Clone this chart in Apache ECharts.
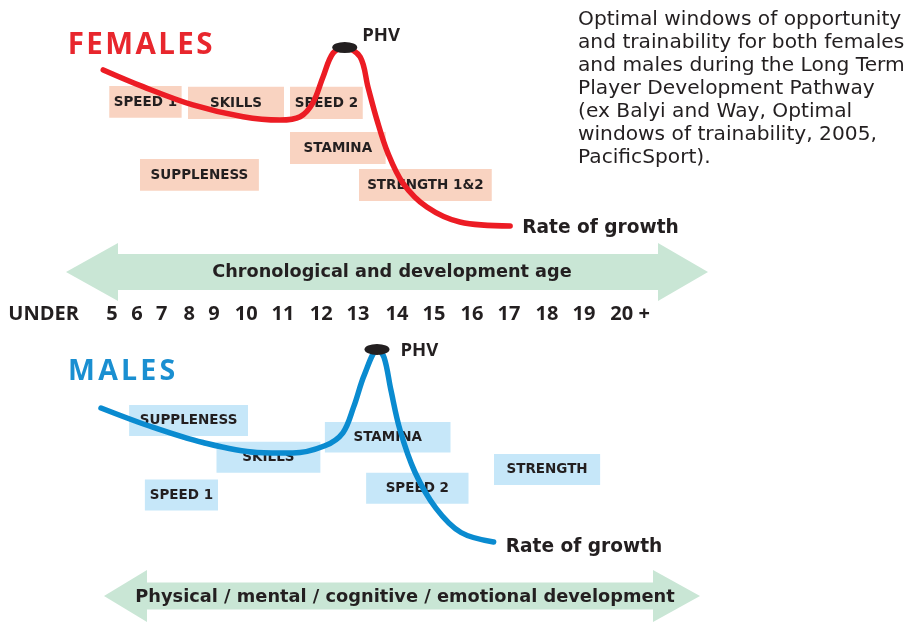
<!DOCTYPE html>
<html><head><meta charset="utf-8">
<script src="https://cdn.jsdelivr.net/npm/echarts@6/dist/echarts.min.js"></script>
<style>html,body{margin:0;padding:0;background:#fff}#c{width:910px;height:625px}</style>
</head><body><div id="c"></div>
<script>
// Age scale tick labels and their positions on the (compressed below 10) age axis
const tickLabels = ['UNDER','5','6','7','8','9','10','11','12','13','14','15','16','17','18','19','20 +'];
const tickPos = [4.63, 6.45, 7.12, 7.78, 8.51, 9.17, 10.03, 11.01, 12.03, 13.01, 14.05, 15.04, 16.05, 17.04, 18.05, 19.04, 20.27];

// Rate of growth curves (x = age position, y = relative growth rate)
const femaleX = [6.22, 7.28, 8.61, 9.95, 10.93, 11.47, 11.81, 12.08, 12.35, 12.67, 13.07, 13.28, 13.52, 13.81, 14.21, 14.85, 15.73, 17.07];
const femaleY = [77.3, 69.7, 61.4, 56.0, 54.5, 56.0, 62.3, 74.1, 85.0, 87.3, 83.2, 69.5, 54.5, 39.5, 25.9, 15.0, 8.2, 6.4];
const maleX = [6.16, 7.45, 8.88, 10.32, 11.27, 12.13, 12.61, 12.90, 13.19, 13.54, 13.71, 13.89, 14.13, 14.53, 15.09, 15.76, 16.63];
const maleY = [69.1, 60.9, 53.4, 48.9, 48.6, 51.9, 57.8, 69.7, 84.5, 95.5, 92.0, 77.3, 59.3, 40.0, 23.6, 12.5, 8.2];

// Peak height velocity
const femalePHV = [12.66, 87.5];
const malePHV = [13.52, 95.7];

// Windows of trainability: [ageStart, ageEnd, levelTop, levelBottom]
const femaleWindowNames = ['SPEED 1', 'SKILLS', 'SPEED 2', 'STAMINA', 'SUPPLENESS', 'STRENGTH 1&2'];
const femaleWindows = [
  [6.38, 8.31, 70.0, 55.6],
  [8.48, 11.04, 69.7, 55.0],
  [11.20, 13.14, 69.7, 55.0],
  [11.20, 13.75, 49.1, 34.5],
  [7.20, 10.37, 36.8, 22.4],
  [13.04, 16.58, 32.3, 17.7]
];
const maleWindowNames = ['SUPPLENESS', 'SKILLS', 'STAMINA', 'SPEED 1', 'SPEED 2', 'STRENGTH'];
const maleWindows = [
  [6.91, 10.08, 70.5, 56.4],
  [9.24, 12.01, 53.8, 39.7],
  [12.13, 15.48, 62.7, 48.9],
  [7.33, 9.28, 36.6, 22.5],
  [13.23, 15.96, 39.7, 25.6],
  [16.64, 19.47, 48.2, 34.1]
];

const FONT = '"Open Sans", "Noto Sans", sans-serif';
const WIDE = '"DejaVu Sans", "Open Sans", sans-serif';
const INK = '#231f20';
const RED = '#ec1c24';
const BLUE = '#0a8bd0';

function zipXY(xs, ys) { return xs.map((x, i) => [x, ys[i]]); }

function windowSeries(name, data, names, fill, gridIdx) {
  return {
    type: 'custom', name: name, xAxisIndex: gridIdx, yAxisIndex: gridIdx, z: 1,
    data: data, silent: true,
    renderItem: function (params, api) {
      const p0 = api.coord([api.value(0), api.value(2)]);
      const p1 = api.coord([api.value(1), api.value(3)]);
      const x = Math.min(p0[0], p1[0]), y = Math.min(p0[1], p1[1]);
      const w = Math.abs(p1[0] - p0[0]), h = Math.abs(p1[1] - p0[1]);
      return {
        type: 'group',
        children: [
          { type: 'rect', shape: { x: x, y: y, width: w, height: h }, style: { fill: fill } },
          { type: 'text', style: { text: names[params.dataIndex], x: x + w / 2, y: y + h / 2 + 0.5,
              align: 'center', verticalAlign: 'middle', fill: INK, font: 'bold 13.5px ' + WIDE } }
        ]
      };
    }
  };
}

function curveSeries(name, xs, ys, color, gridIdx, endOffset) {
  return {
    type: 'line', name: name, xAxisIndex: gridIdx, yAxisIndex: gridIdx, z: 3,
    data: zipXY(xs, ys), smooth: 0.35, symbol: 'none', animation: false,
    lineStyle: { color: color, width: 5.5, cap: 'round' },
    endLabel: { show: true, formatter: 'Rate of growth', color: INK, fontFamily: WIDE,
      fontWeight: 'bold', fontSize: 18.6, distance: 12, offset: endOffset }
  };
}

function phvSeries(name, pt, gridIdx, labelPos) {
  return {
    type: 'scatter', name: name, xAxisIndex: gridIdx, yAxisIndex: gridIdx, z: 4,
    data: [pt], symbol: 'circle', symbolSize: [25, 11], animation: false,
    itemStyle: { color: INK, opacity: 1 },
    label: { show: true, formatter: 'PHV', position: labelPos, align: 'left', verticalAlign: 'middle',
      color: INK, fontFamily: FONT, fontWeight: 'bold', fontSize: 18.5 }
  };
}

function spaced(word) { return word.split('').map(c => '{l|' + c + '}').join(''); }

const xBase = { type: 'value', min: 4, max: 27, show: false };
const yBase = { type: 'value', min: 0, max: 100, show: false };

const option = {
  backgroundColor: '#ffffff',
  animation: false,
  grid: [
    { left: 20, right: 27.5, top: 20, height: 220 },
    { left: 20, right: 27.5, top: 340, height: 220 },
    { left: 20, right: 27.5, top: 296, height: 2 }
  ],
  xAxis: [
    Object.assign({ gridIndex: 0 }, xBase),
    Object.assign({ gridIndex: 1 }, xBase),
    { type: 'value', gridIndex: 2, min: 4, max: 27, show: true,
      axisLine: { show: false }, axisTick: { show: false }, splitLine: { show: false },
      axisLabel: { show: true, customValues: tickPos, margin: 6, color: INK, fontFamily: FONT,
        fontWeight: 'bold', fontSize: 20,
        formatter: function (v) {
          for (let i = 0; i < tickPos.length; i++) if (Math.abs(tickPos[i] - v) < 1e-6) return tickLabels[i];
          return '';
        } } }
  ],
  yAxis: [
    Object.assign({ gridIndex: 0 }, yBase),
    Object.assign({ gridIndex: 1 }, yBase),
    { type: 'value', gridIndex: 2, show: false }
  ],
  graphic: [
    { type: 'polygon', z: 0, shape: { points: [[66,272],[118,243],[118,254],[658,254],[658,243],[708,272],[658,301],[658,290],[118,290],[118,301]] },
      style: { fill: '#c9e6d5' } },
    { type: 'polygon', z: 0, shape: { points: [[104,596],[147,570],[147,582.5],[653,582.5],[653,570],[700,596],[653,622],[653,609.5],[147,609.5],[147,622]] },
      style: { fill: '#c9e6d5' } },
    { type: 'text', z: 2, style: { text: 'Chronological and development age', x: 392, y: 272.5, align: 'center', verticalAlign: 'middle',
      fill: INK, font: 'bold 17.7px ' + WIDE } },
    { type: 'text', z: 2, style: { text: 'Physical / mental / cognitive / emotional development', x: 405, y: 597.5, align: 'center', verticalAlign: 'middle',
      fill: INK, font: 'bold 17.8px ' + WIDE } },
    { type: 'text', z: 2, style: { text: spaced('FEMALES'), x: 66.5, y: 46, verticalAlign: 'middle',
      rich: { l: { fontFamily: FONT, fontWeight: 'bold', fontSize: 29.5, fill: '#e8262d', padding: [0, 1.2, 0, 1.2] } } } },
    { type: 'text', z: 2, style: { text: spaced('MALES'), x: 66.5, y: 372, verticalAlign: 'middle',
      rich: { l: { fontFamily: FONT, fontWeight: 'bold', fontSize: 28.5, fill: '#1a8fd1', padding: [0, 1.6, 0, 1.6] } } } },
    { type: 'text', z: 2, style: {
      text: 'Optimal windows of opportunity\nand trainability for both females\nand males during the Long Term\nPlayer Development Pathway\n(ex Balyi and Way, Optimal\nwindows of trainability, 2005,\nPacificSport).',
      x: 578, y: 8, fill: INK, font: '20.2px ' + WIDE, lineHeight: 23.1 } }
  ],
  series: [
    windowSeries('Female windows', femaleWindows, femaleWindowNames, '#f9d3c1', 0),
    windowSeries('Male windows', maleWindows, maleWindowNames, '#c6e7f9', 1),
    curveSeries('Female rate of growth', femaleX, femaleY, RED, 0, [0, 2]),
    curveSeries('Male rate of growth', maleX, maleY, BLUE, 1, [0, 5]),
    phvSeries('Female PHV', femalePHV, 0, [30, -6]),
    phvSeries('Male PHV', malePHV, 1, [36, 7])
  ]
};

const chart = echarts.init(document.getElementById('c'), null, { renderer: 'canvas' });
chart.setOption(option);
</script>
</body></html>
